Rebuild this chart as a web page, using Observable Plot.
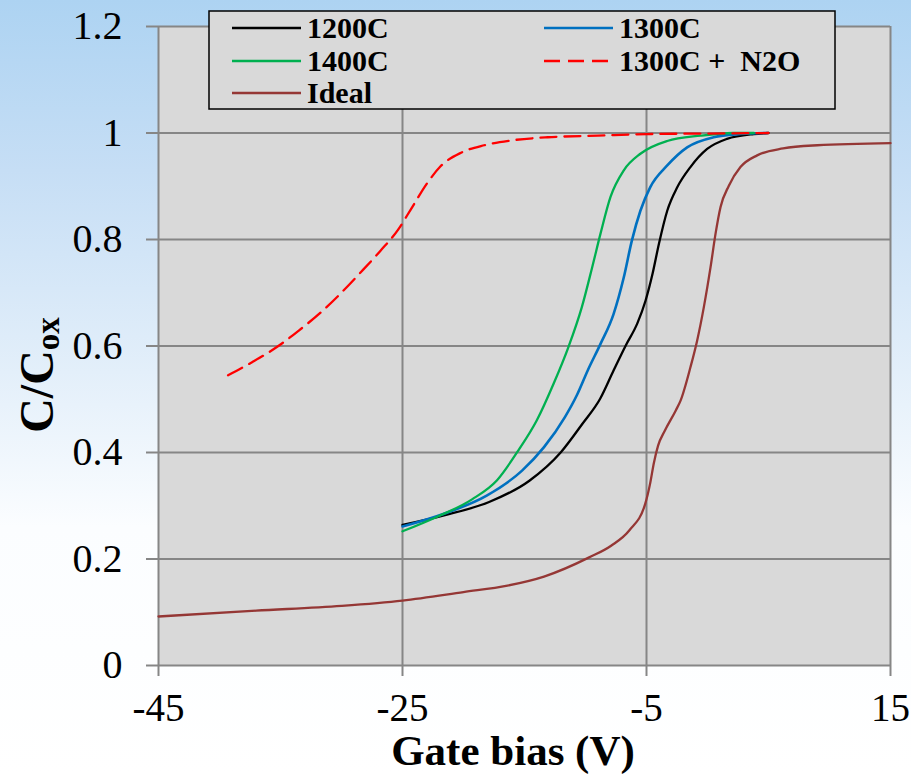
<!DOCTYPE html>
<html><head><meta charset="utf-8">
<script src="https://cdn.jsdelivr.net/npm/d3@7"></script>
<script src="https://cdn.jsdelivr.net/npm/@observablehq/plot@0.6"></script>
<style>
html,body{margin:0;padding:0;width:911px;height:775px;overflow:hidden;}
body{background:linear-gradient(to bottom,#add3f2 0%,#c6def5 22%,#e3effa 48%,#fbfdff 68%,#ffffff 100%);}
#chart svg{display:block;}
</style></head><body><div id="chart"></div>
<script>
// ---- data ----
const gateTicks = [-45, -25, -5, 15];
const gateTickLabels = ["-45", "-25", "-5", "15"];
const capTicks = [0, 0.2, 0.4, 0.6, 0.8, 1, 1.2];
const capTickLabels = ["0", "0.2", "0.4", "0.6", "0.8", "1", "1.2"];

const seriesNames = ["1200C", "1300C", "1400C", "1300C + N2O", "Ideal"];
const seriesColors = ["#000000", "#0070c0", "#00b050", "#ff0000", "#953735"];

const bias1200 = [-25, -21.6, -17.9, -14.6, -12.0, -10.25, -8.8, -7.7, -6.7, -5.76, -5.08, -4.5, -3.98, -3.3, -2.48, -1.4, -0.03, 1.6, 3.8, 5.0];
const cap1200  = [0.264, 0.282, 0.307, 0.347, 0.401, 0.454, 0.501, 0.554, 0.601, 0.642, 0.685, 0.736, 0.792, 0.854, 0.898, 0.936, 0.970, 0.989, 0.998, 1.0];

const bias1300 = [-25, -21.6, -18.1, -15.2, -13.4, -11.7, -10.7, -9.8, -8.77, -7.7, -6.86, -6.2, -5.5, -4.7, -3.3, -1.67, 0.5, 2.7, 4.9];
const cap1300  = [0.261, 0.285, 0.319, 0.366, 0.41, 0.466, 0.508, 0.555, 0.604, 0.66, 0.729, 0.798, 0.854, 0.898, 0.939, 0.973, 0.992, 0.998, 1.0];

const bias1400 = [-25, -22.2, -19.3, -17.25, -15.5, -14.0, -12.6, -11.4, -10.3, -9.45, -8.77, -7.95, -6.86, -5.5, -3.3, -0.57, 2.1, 3.8];
const cap1400  = [0.252, 0.279, 0.312, 0.348, 0.404, 0.46, 0.53, 0.598, 0.673, 0.748, 0.811, 0.88, 0.93, 0.961, 0.985, 0.995, 1.0, 1.0];

const biasN2O = [-39.3, -37.3, -35.3, -33.5, -31.7, -30.1, -28.4, -26.8, -25.4, -24.2, -23.0, -21.9, -20.2, -18.3, -16.1, -13.1, -9.0, -4.95, 0, 5.0];
const capN2O  = [0.545, 0.57, 0.598, 0.629, 0.663, 0.698, 0.739, 0.779, 0.817, 0.861, 0.905, 0.937, 0.963, 0.977, 0.986, 0.992, 0.995, 0.998, 0.999, 1.0];

const biasIdeal = [-45, -37, -30, -25, -20, -16.4, -13.4, -9.7, -7.9, -6.4, -5.1, -4.7, -4.4, -4.05, -3.5, -2.6, -2.2, -1.4, -0.85, -0.3, 0.25, 0.66, 1.07, 1.75, 2.7, 4.07, 6.2, 9.0, 15];
const capIdeal  = [0.092, 0.103, 0.112, 0.122, 0.138, 0.150, 0.167, 0.203, 0.225, 0.254, 0.304, 0.342, 0.38, 0.413, 0.441, 0.479, 0.498, 0.56, 0.61, 0.673, 0.748, 0.811, 0.861, 0.901, 0.936, 0.958, 0.971, 0.977, 0.981];

const biasSets = [bias1200, bias1300, bias1400, biasN2O, biasIdeal];
const capSets = [cap1200, cap1300, cap1400, capN2O, capIdeal];

// ---- build ----
const rows = seriesNames.flatMap((name, k) => biasSets[k].map((b, i) => ({series: name, bias: b, cap: capSets[k][i]})));
const dashes = {"1300C + N2O": "16,8"};
const widths = {"1300C": 2.6};
const serif = "Liberation Serif, Times New Roman, serif";
const gridColor = "#868686";

const lineMarks = seriesNames.map((name, k) => Plot.line(rows.filter(r => r.series === name), {
  x: "bias", y: "cap", stroke: seriesColors[k], strokeWidth: widths[name] || 2.3,
  strokeDasharray: dashes[name] || null, curve: "monotone-x"
}));

const chart = Plot.plot({
  width: 911, height: 775,
  marginLeft: 158, marginRight: 21, marginTop: 26, marginBottom: 110,
  style: {background: "transparent", fontFamily: serif, color: "black", overflow: "visible"},
  x: {domain: [-45, 15]},
  y: {domain: [0, 1.2]},
  marks: [
    Plot.frame({fill: "#d9d9d9", stroke: null}),
    Plot.gridX(gateTicks, {stroke: gridColor, strokeWidth: 2, strokeOpacity: 1}),
    Plot.gridY(capTicks, {stroke: gridColor, strokeWidth: 2, strokeOpacity: 1}),
    Plot.axisX(gateTicks, {tickSize: 11, tickPadding: 17, fontSize: 39, stroke: gridColor, strokeWidth: 2, strokeOpacity: 1,
      tickFormat: d => gateTickLabels[gateTicks.indexOf(d)], label: null}),
    Plot.axisY(capTicks, {tickSize: 12, tickPadding: 24, fontSize: 40, stroke: gridColor, strokeWidth: 2, strokeOpacity: 1,
      tickFormat: d => capTickLabels[capTicks.indexOf(d)], label: null}),
    ...lineMarks
  ]
});
document.getElementById("chart").appendChild(chart);

const svg = d3.select(chart);
// x title
svg.append("text").attr("x", 513).attr("y", 765).attr("text-anchor", "middle")
  .attr("font-family", serif).attr("font-weight", "bold").attr("font-size", 43).attr("fill", "black")
  .text("Gate bias (V)");
// y title
const yt = svg.append("text").attr("transform", "translate(53,375) rotate(-90)").attr("text-anchor", "middle")
  .attr("font-family", serif).attr("font-weight", "bold").attr("font-size", 48).attr("fill", "black");
yt.append("tspan").text("C/C");
yt.append("tspan").attr("font-size", 33).attr("dy", 6).text("ox");

// legend
const lg = svg.append("g").attr("text-anchor", "start");
lg.append("rect").attr("x", 209).attr("y", 11).attr("width", 626).attr("height", 98)
  .attr("fill", "#d9d9d9").attr("stroke", "black").attr("stroke-width", 1.5);
const legendPos = [[232, 28], [544, 28], [232, 61], [544, 61], [232, 93]];
const legendOrder = ["1200C", "1300C", "1400C", "1300C + N2O", "Ideal"];
legendOrder.forEach((name, j) => {
  const k = seriesNames.indexOf(name);
  const [lx, ly] = legendPos[j];
  lg.append("line").attr("x1", lx).attr("x2", lx + 69).attr("y1", ly).attr("y2", ly)
    .attr("stroke", seriesColors[k]).attr("stroke-width", 2.6)
    .attr("stroke-dasharray", dashes[name] ? "16,8" : null);
  lg.append("text").attr("x", lx + 75).attr("y", ly).attr("dy", "0.34em").attr("text-anchor", "start")
    .attr("font-family", serif).attr("font-weight", "bold").attr("font-size", 30).attr("fill", "black")
    .style("white-space", "pre")
    .text(name === "1300C + N2O" ? "1300C +  N2O" : name);
});
</script></body></html>
